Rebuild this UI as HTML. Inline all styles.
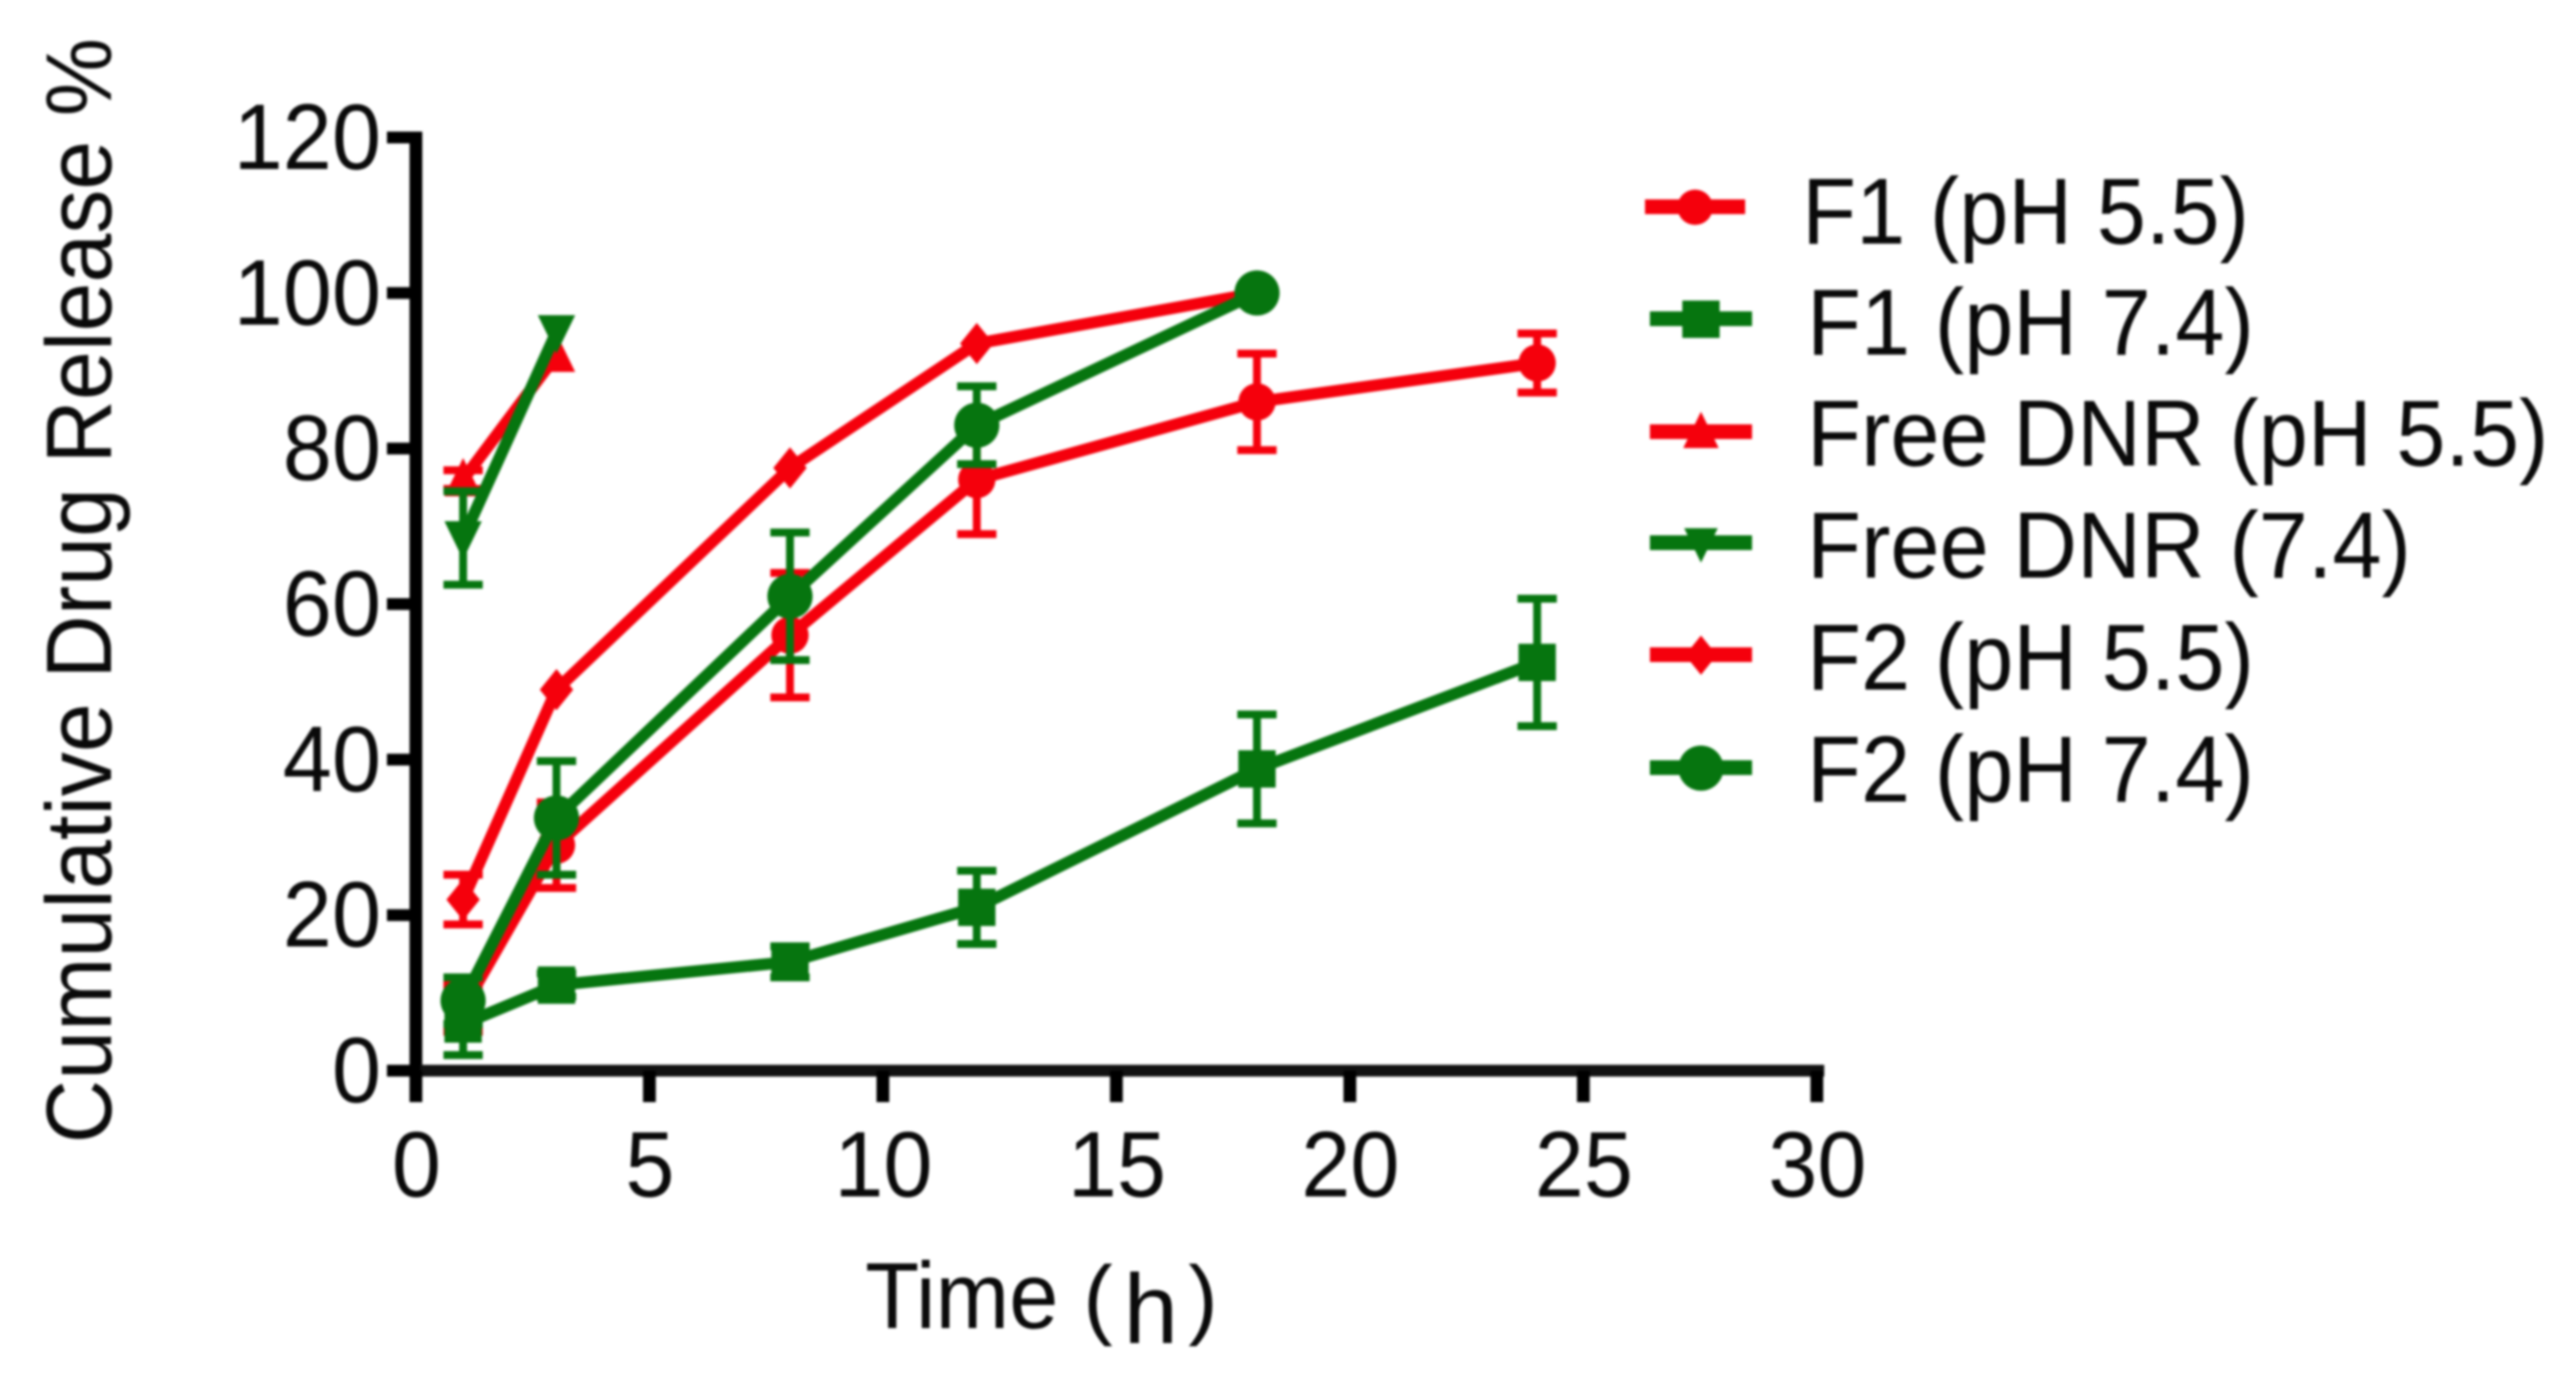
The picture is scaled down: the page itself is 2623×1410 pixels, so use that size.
<!DOCTYPE html>
<html lang="en">
<head>
<meta charset="utf-8">
<title>Cumulative Drug Release</title>
<style>
html,body{margin:0;padding:0;background:#fff;width:2623px;height:1410px;overflow:hidden}
svg{display:block;filter:blur(1.3px)}
text{font-family:"Liberation Sans",sans-serif;font-size:90px;fill:#0a0a0a}
</style>
</head>
<body>
<svg id="chart" xmlns="http://www.w3.org/2000/svg" width="2623" height="1410" viewBox="0 0 2623 1410">
  <rect width="2623" height="1410" fill="#fff"/>
  <g id="axes"></g>
  <g id="plot"></g>
  <text style="font-size:89.6px" transform="translate(113,1164) rotate(-90) scale(1,1.06)">Cumulative Drug Release %</text>
  <text transform="translate(881,1352) scale(1,1.06)">Time</text>
  <text x="1103" y="1352">(</text>
  <text x="1144" y="1367" style="font-size:100px">h</text>
  <text x="1210" y="1352">)</text>
  <g id="legend">
    <text transform="translate(1835,248) scale(1,1.06)">F1 (pH 5.5)</text>
    <text transform="translate(1840,361) scale(1,1.06)">F1 (pH 7.4)</text>
    <text transform="translate(1840,474) scale(1,1.06)">Free DNR (pH 5.5)</text>
    <text transform="translate(1840,588) scale(1,1.06)">Free DNR (7.4)</text>
    <text transform="translate(1840,702) scale(1,1.06)">F2 (pH 5.5)</text>
    <text transform="translate(1840,816) scale(1,1.06)">F2 (pH 7.4)</text>
  </g>
</svg>
<script>
// ---- data ----
const xTicks = [0, 5, 10, 15, 20, 25, 30];
const yTicks = [0, 20, 40, 60, 80, 100, 120];

const timeLong = [1, 3, 8, 12, 18, 24];
const timeF2 = [1, 3, 8, 12, 18];
const timeFree = [1, 3];

const f1Ph55Values = [8, 29, 56, 76, 86, 91];
const f1Ph55Errors = [3, 5.5, 8, 7, 6.2, 3.8];
const f1Ph74Values = [6, 11, 14, 21, 38.8, 52.5];
const f1Ph74Errors = [4, 1.5, 2, 4.7, 7, 8.2];
const freePh55Values = [76, 92];
const freePh55Errors = [1.2, 0];
const freePh74Values = [68.5, 95];
const freePh74Errors = [6, 0];
const f2Ph55Values = [22, 49, 77.5, 93.5, 100];
const f2Ph55Errors = [3.2, 0.5, 0.5, 0.5, 0.3];
const f2Ph74Values = [9, 32.5, 61, 83, 100];
const f2Ph74Errors = [3, 7.3, 8.2, 5, 0.5];

const seriesNames = ['f1-ph55', 'f1-ph74', 'free-dnr-ph55', 'free-dnr-74', 'f2-ph55', 'f2-ph74'];

// ---- scales ----
const RED = '#f5000c';
const GREEN = '#06750f';
const NS = 'http://www.w3.org/2000/svg';
function xs(v) { return 424 + v * 47.55; }
function ys(v) { return 1090 - v * 7.917; }

function mk(tag, parent, attrs) {
  const el = document.createElementNS(NS, tag);
  for (const k in attrs) el.setAttribute(k, attrs[k]);
  parent.appendChild(el);
  return el;
}

function marker(parent, shape, cx, cy, color, scale) {
  let el;
  const s = scale;
  if (shape === 'circle') {
    el = mk('circle', parent, { cx: cx, cy: cy, r: 19 * s, fill: color });
  } else if (shape === 'bigcircle') {
    el = mk('circle', parent, { cx: cx, cy: cy, r: 23 * s, fill: color });
  } else if (shape === 'square') {
    el = mk('rect', parent, { x: cx - 19 * s, y: cy - 19 * s, width: 38 * s, height: 38 * s, fill: color });
  } else if (shape === 'up') {
    el = mk('polygon', parent, { points: (cx - 19 * s) + ',' + (cy + 17 * s) + ' ' + (cx + 19 * s) + ',' + (cy + 17 * s) + ' ' + cx + ',' + (cy - 22 * s), fill: color });
  } else if (shape === 'down') {
    el = mk('polygon', parent, { points: (cx - 19 * s) + ',' + (cy - 17 * s) + ' ' + (cx + 19 * s) + ',' + (cy - 17 * s) + ' ' + cx + ',' + (cy + 22 * s), fill: color });
  } else {
    el = mk('polygon', parent, { points: (cx - 17 * s) + ',' + cy + ' ' + cx + ',' + (cy - 21 * s) + ' ' + (cx + 17 * s) + ',' + cy + ' ' + cx + ',' + (cy + 21 * s), fill: color });
  }
  return el;
}

// ---- axes ----
const axes = document.getElementById('axes');
const yAxisLine = mk('rect', axes, { x: xs(0) - 7, y: 134, width: 13, height: 988, fill: '#000' });


const xAxisLine = mk('rect', axes, { x: 394, y: 1084, width: xs(30) - 394 + 7, height: 12, fill: '#111' });



yTicks.forEach(function (t) {
  const tick = mk('rect', axes, { x: 394, y: ys(t) - 6, width: 34, height: 12, fill: '#000' });
  
  
  const label = mk('text', axes, { transform: 'translate(388,' + (ys(t) + 32) + ') scale(1,1.05)', 'text-anchor': 'end' });
  
  
  label.textContent = t;
});
xTicks.forEach(function (t) {
  const tick = mk('rect', axes, { x: xs(t) - 7, y: 1090, width: 13, height: 32, fill: '#000' });
  
  
  const label = mk('text', axes, { transform: 'translate(' + xs(t) + ',1218) scale(1,1.05)', 'text-anchor': 'middle' });
  
  
  label.textContent = t;
});

// ---- series ----
const plot = document.getElementById('plot');
function drawSeries(name, times, values, errors, color, shape) {
  const g = mk('g', plot, {});
  
  
  times.forEach(function (t, i) {
    if (errors[i] < 0.6) return;
    const cx = xs(t);
    const hi = ys(values[i] + errors[i]);
    const lo = ys(values[i] - errors[i]);
    const bar = mk('path', g, {
      d: 'M' + cx + ' ' + hi + 'V' + lo + 'M' + (cx - 20) + ' ' + hi + 'H' + (cx + 20) + 'M' + (cx - 20) + ' ' + lo + 'H' + (cx + 20),
      stroke: color, 'stroke-width': 8, fill: 'none'
    });
    
    
  });
  const pts = times.map(function (t, i) { return xs(t) + ',' + ys(values[i]); }).join(' ');
  const line = mk('polyline', g, { points: pts, fill: 'none', stroke: color, 'stroke-width': 12, 'stroke-linejoin': 'round' });
  
  
  times.forEach(function (t, i) {
    const m = marker(g, shape, xs(t), ys(values[i]), color, 1);
    
    
  });
}
drawSeries(seriesNames[0], timeLong, f1Ph55Values, f1Ph55Errors, RED, 'circle');
drawSeries(seriesNames[1], timeLong, f1Ph74Values, f1Ph74Errors, GREEN, 'square');
drawSeries(seriesNames[2], timeFree, freePh55Values, freePh55Errors, RED, 'up');
drawSeries(seriesNames[3], timeFree, freePh74Values, freePh74Errors, GREEN, 'down');
drawSeries(seriesNames[4], timeF2, f2Ph55Values, f2Ph55Errors, RED, 'diamond');
drawSeries(seriesNames[5], timeF2, f2Ph74Values, f2Ph74Errors, GREEN, 'bigcircle');

// ---- legend swatches ----
const legend = document.getElementById('legend');
function legendSwatch(name, x1, x2, y, color, shape, scale) {
  const line = mk('rect', legend, { x: x1, y: y - 8, width: x2 - x1, height: 15, fill: color });
  
  
  const m = marker(legend, shape, (x1 + x2) / 2, y, color, scale);
  
  
}
legendSwatch(seriesNames[0], 1675, 1777, 211, RED, 'circle', 0.95);
legendSwatch(seriesNames[1], 1680, 1784, 325, GREEN, 'square', 1);
legendSwatch(seriesNames[2], 1680, 1784, 440, RED, 'up', 0.95);
legendSwatch(seriesNames[3], 1680, 1784, 553, GREEN, 'down', 0.9);
legendSwatch(seriesNames[4], 1680, 1784, 667, RED, 'diamond', 0.95);
legendSwatch(seriesNames[5], 1680, 1784, 782, GREEN, 'bigcircle', 1);
</script>
</body>
</html>
